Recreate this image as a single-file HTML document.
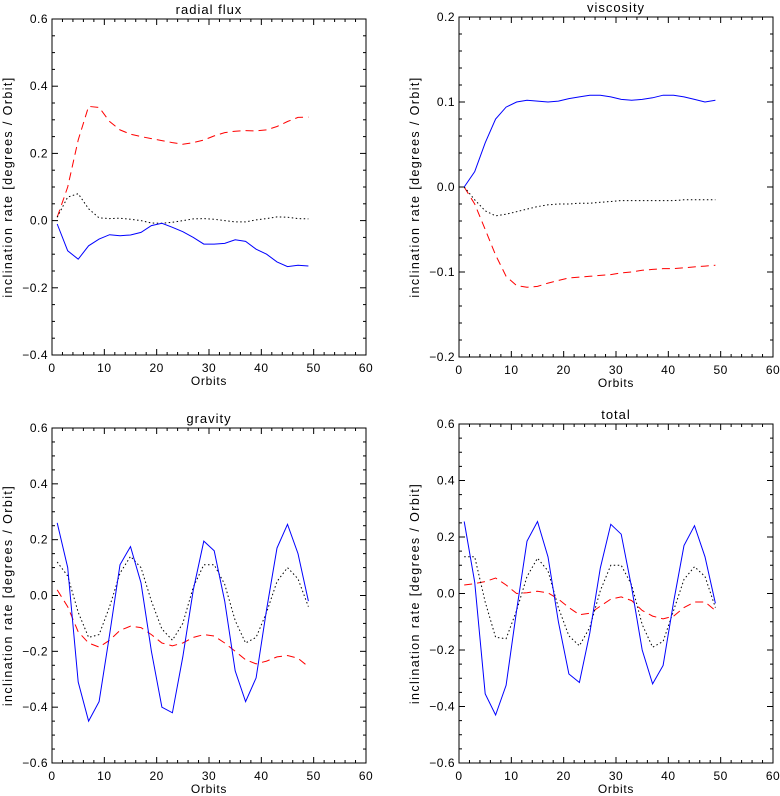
<!DOCTYPE html>
<html><head><meta charset="utf-8"><style>
html,body{margin:0;padding:0;background:#fff}
svg{display:block;font-family:"Liberation Sans",sans-serif}
</style></head><body>
<svg id="c" width="780" height="796" xmlns="http://www.w3.org/2000/svg"></svg>
<script>
const orbits = [1,3,5,7,9,11,13,15,17,19,21,23,25,27,29,31,33,35,37,39,41,43,45,47,49];
const xTicks = [0,10,20,30,40,50,60];

const radialBlue = [-0.01,-0.09,-0.115,-0.075,-0.055,-0.042,-0.045,-0.043,-0.035,-0.015,-0.008,-0.02,-0.033,-0.05,-0.07,-0.07,-0.068,-0.057,-0.062,-0.085,-0.1,-0.123,-0.137,-0.133,-0.135];
const radialRed = [0.01,0.1,0.24,0.34,0.337,0.295,0.27,0.257,0.25,0.244,0.238,0.232,0.227,0.232,0.24,0.252,0.262,0.266,0.268,0.267,0.27,0.28,0.295,0.307,0.308];
const radialBlack = [0.01,0.07,0.08,0.035,0.008,0.006,0.007,0.004,0,-0.007,-0.008,-0.005,0,0.005,0.006,0.004,0,-0.004,-0.004,0.002,0.006,0.011,0.01,0.006,0.005];

const viscBlue = [0,0.018,0.052,0.08,0.094,0.1,0.102,0.101,0.1,0.101,0.104,0.106,0.108,0.108,0.106,0.103,0.102,0.103,0.105,0.108,0.108,0.106,0.103,0.1,0.102];
const viscRed = [0,-0.02,-0.05,-0.08,-0.105,-0.116,-0.118,-0.117,-0.113,-0.11,-0.107,-0.106,-0.105,-0.104,-0.103,-0.101,-0.1,-0.098,-0.097,-0.096,-0.096,-0.095,-0.094,-0.093,-0.092];
const viscBlack = [0,-0.015,-0.028,-0.034,-0.032,-0.029,-0.026,-0.023,-0.021,-0.02,-0.02,-0.019,-0.019,-0.018,-0.017,-0.016,-0.016,-0.016,-0.016,-0.016,-0.016,-0.015,-0.015,-0.015,-0.015];

const gravBlue = [0.26,0.1,-0.31,-0.45,-0.38,-0.14,0.11,0.175,0.045,-0.2,-0.4,-0.42,-0.22,0.02,0.195,0.16,-0.02,-0.27,-0.38,-0.295,-0.05,0.17,0.255,0.15,-0.02];
const gravRed = [0.02,-0.04,-0.13,-0.17,-0.185,-0.16,-0.125,-0.11,-0.115,-0.14,-0.17,-0.18,-0.17,-0.15,-0.14,-0.145,-0.17,-0.2,-0.23,-0.245,-0.235,-0.22,-0.215,-0.225,-0.255];
const gravBlack = [0.12,0.07,-0.06,-0.15,-0.14,-0.04,0.08,0.14,0.1,-0.02,-0.12,-0.16,-0.1,0.03,0.11,0.11,0.04,-0.09,-0.17,-0.15,-0.06,0.05,0.1,0.06,-0.04];

const totBlue = [0.255,0.04,-0.355,-0.43,-0.325,-0.06,0.185,0.255,0.13,-0.1,-0.285,-0.315,-0.14,0.09,0.245,0.21,0.02,-0.2,-0.32,-0.255,-0.03,0.17,0.24,0.13,-0.035];
const totRed = [0.03,0.035,0.042,0.055,0.03,0,0.003,0.008,0.002,-0.02,-0.05,-0.075,-0.07,-0.045,-0.02,-0.012,-0.025,-0.06,-0.08,-0.09,-0.08,-0.05,-0.03,-0.03,-0.06];
const totBlack = [0.13,0.13,-0.03,-0.155,-0.16,-0.06,0.06,0.125,0.08,-0.05,-0.15,-0.185,-0.12,0.01,0.1,0.1,0.03,-0.11,-0.19,-0.17,-0.06,0.05,0.095,0.06,-0.05];

const yTicksA = [-0.4,-0.2,0.0,0.2,0.4,0.6];
const yTicksB = [-0.2,-0.1,0.0,0.1,0.2];
const yTicksC = [-0.6,-0.4,-0.2,0.0,0.2,0.4,0.6];

const NS='http://www.w3.org/2000/svg';
const svg=document.getElementById('c');
function mk(tag,attrs,parent){const e=document.createElementNS(NS,tag);for(const k in attrs)e.setAttribute(k,attrs[k]);(parent||svg).appendChild(e);return e;}

const panels=[
 {key:'radial-flux',title:'radial flux',L:52,R:366,T:19,B:355,yMin:-0.4,yMax:0.6,ticks:yTicksA,minor:0.05,dec:1,blue:radialBlue,red:radialRed,black:radialBlack,ytx:8},
 {key:'viscosity',title:'viscosity',L:459,R:773,T:17,B:357,yMin:-0.2,yMax:0.2,ticks:yTicksB,minor:0.02,dec:1,blue:viscBlue,red:viscRed,black:viscBlack,ytx:415},
 {key:'gravity',title:'gravity',L:52,R:366,T:428,B:763,yMin:-0.6,yMax:0.6,ticks:yTicksC,minor:0.05,dec:1,blue:gravBlue,red:gravRed,black:gravBlack,ytx:8},
 {key:'total',title:'total',L:459,R:773,T:424,B:763,yMin:-0.6,yMax:0.6,ticks:yTicksC,minor:0.05,dec:1,blue:totBlue,red:totRed,black:totBlack,ytx:415}
];

panels.forEach(p=>{
  const g=mk('g',{});
  
  
  const xs=v=>p.L+(v-0)/(60-0)*(p.R-p.L);
  const ys=v=>p.B-(v-p.yMin)/(p.yMax-p.yMin)*(p.B-p.T);
  const fr=mk('rect',{x:p.L,y:p.T,width:p.R-p.L,height:p.B-p.T,fill:'none',stroke:'#000','stroke-width':1},g);
  
  
  for(let v=0;v<=60;v+=2){
    const major=v%10===0, len=major?6:3, x=xs(v);
    mk('line',{x1:x,y1:p.B,x2:x,y2:p.B-len,stroke:'#000'},g);
    mk('line',{x1:x,y1:p.T,x2:x,y2:p.T+len,stroke:'#000'},g);
  }
  xTicks.forEach(v=>{
    const t=mk('text',{x:xs(v),y:p.B+17,'text-anchor':'middle','font-size':12,fill:'#000','letter-spacing':0.5},g);
    t.textContent=String(v);
    
    
  });
  const n=Math.round((p.yMax-p.yMin)/p.minor);
  const majStep=p.ticks[1]-p.ticks[0];
  for(let i=0;i<=n;i++){
    const v=p.yMin+i*p.minor;
    const major=Math.abs(Math.round((v-p.yMin)/majStep)*majStep-(v-p.yMin))<1e-6;
    const len=major?6:3, y=ys(v);
    mk('line',{x1:p.L,y1:y,x2:p.L+len,y2:y,stroke:'#000'},g);
    mk('line',{x1:p.R,y1:y,x2:p.R-len,y2:y,stroke:'#000'},g);
  }
  p.ticks.forEach(v=>{
    const t=mk('text',{x:p.L-4,y:ys(v)+4,'text-anchor':'end','font-size':12,fill:'#000','letter-spacing':0.5},g);
    t.textContent=(v<0?'\u2212':'')+Math.abs(v).toFixed(p.dec);
    
    
  });
  const tt=mk('text',{x:(p.L+p.R)/2,y:p.T-5,'text-anchor':'middle','font-size':13,fill:'#000','letter-spacing':1},g);
  tt.textContent=p.title;
  
  
  const xt=mk('text',{x:(p.L+p.R)/2,y:p.B+30,'text-anchor':'middle','font-size':12,fill:'#000','letter-spacing':0.7},g);
  xt.textContent='Orbits';
  
  
  const cy=(p.T+p.B)/2;
  const yt=mk('text',{x:p.ytx,y:cy,'text-anchor':'middle','font-size':12.5,fill:'#000','letter-spacing':1.4,transform:'rotate(-90 '+p.ytx+' '+cy+')','dominant-baseline':'central'},g);
  yt.textContent='inclination rate [degrees / Orbit]';
  
  
  const series=[['red',p.red,'#ff0000','8,5'],['black',p.black,'#000','1.5,2.5'],['blue',p.blue,'#0000ff','']];
  series.forEach(([nm,arr,col,dash])=>{
    const d=arr.map((v,i)=>(i?'L':'M')+xs(orbits[i]).toFixed(1)+','+ys(v).toFixed(1)).join(' ');
    const a={d:d,fill:'none',stroke:col,'stroke-width':1};
    if(dash)a['stroke-dasharray']=dash;
    const pa=mk('path',a,g);
    
    
  });
});
</script>
</body></html>
